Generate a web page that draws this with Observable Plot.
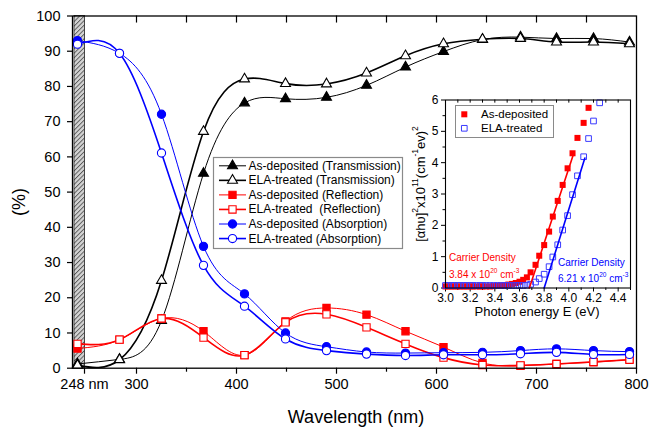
<!DOCTYPE html>
<html><head><meta charset="utf-8">
<script src="https://cdn.jsdelivr.net/npm/d3@7"></script>
<script src="https://cdn.jsdelivr.net/npm/@observablehq/plot@0.6"></script>
<style>
body{margin:0;background:#fff;}
#wrap{position:relative;width:649px;height:429px;overflow:hidden;background:#fff;}
#wrap svg{position:absolute;overflow:visible;}
</style></head><body><div id="wrap"></div>
<script>
// ---------- main chart data ----------
const wavelength = [241, 283, 325, 367, 408, 449, 490, 530, 569, 607, 646, 684, 720, 757, 793];
const transAsDep = [1.2, 2.5, 13.5, 55.3, 75.3, 76.5, 76.9, 80.3, 85.5, 89.9, 93.3, 94.0, 93.6, 93.6, 92.6];
const transELA   = [0.8, 2.4, 24.9, 67.2, 82.1, 80.8, 80.7, 83.8, 88.7, 92.1, 93.4, 93.6, 92.6, 92.6, 92.1];
const reflAsDep  = [5.6, 8.1, 14.1, 10.5, 3.7, 13.3, 17.1, 15.2, 10.5, 6.0, 1.5, 0.7, 1.2, 1.7, 2.5];
const reflELA    = [6.9, 8.1, 14.1, 8.7, 3.7, 13.0, 15.3, 11.6, 6.9, 3.0, 0.9, 0.8, 1.2, 1.8, 2.4];
const absAsDep   = [93.0, 89.4, 72.1, 34.6, 21.1, 10.0, 6.1, 4.6, 4.3, 4.4, 4.5, 5.0, 5.5, 5.0, 4.7];
const absELA     = [92.0, 89.4, 61.1, 29.2, 17.6, 8.3, 5.0, 4.0, 3.6, 3.8, 3.8, 4.1, 4.5, 3.9, 3.9];
const seriesLabels = [
  "As-deposited (Transmission)", "ELA-treated (Transmission)",
  "As-deposited (Reflection)", "ELA-treated  (Reflection)",
  "As-deposited (Absorption)", "ELA-treated (Absorption)"
];
const laserBand = [238, 248.5];
const xMajorTicks = [248, 300, 400, 500, 600, 700, 800];
const xMinorTicks = [350, 450, 550, 650, 750];
const yTicks = [0, 10, 20, 30, 40, 50, 60, 70, 80, 90, 100];

// ---------- inset data ----------
const photonE = [3.00,3.02,3.05,3.07,3.10,3.12,3.15,3.17,3.20,3.22,3.25,3.28,3.30,3.33,3.36,3.39,3.42,3.45,3.48,3.51,3.54,3.57,3.60,3.63,3.66,3.69,3.73,3.76,3.80,3.84,3.87,3.91,3.95,3.99,4.03,4.07,4.12,4.16,4.20,4.25];
const insetAsDep = [0.05,0.05,0.05,0.05,0.05,0.05,0.05,0.05,0.05,0.05,0.05,0.05,0.05,0.05,0.05,0.06,0.07,0.08,0.09,0.11,0.13,0.16,0.20,0.26,0.34,0.50,0.74,1.03,1.37,1.80,2.28,2.78,3.29,3.82,4.30,4.79,5.27,5.75,null,null];
const insetELA = [0.08,0.08,0.08,0.08,0.08,0.08,0.08,0.08,0.08,0.08,0.08,0.08,0.08,0.08,0.08,0.08,0.08,0.08,0.08,0.08,0.08,0.08,0.08,0.08,0.09,0.12,0.19,0.30,0.44,0.68,0.99,1.38,1.85,2.31,2.98,3.58,4.19,4.77,5.33,5.91];
const fitAsDepE = [3.68, 4.04], fitAsDepY = [0, 4.3];
const fitELAE = [3.80, 4.13], fitELAY = [0, 4.15];
const insetLabels = ["As-deposited", "ELA-treated"];
const insetXTicks = [3.0,3.2,3.4,3.6,3.8,4.0,4.2,4.4];
const insetXMinor = [3.1,3.3,3.5,3.7,3.9,4.1,4.3,4.5];
const insetYTicks = [0,1,2,3,4,5,6];
const insetYMinor = [0.5,1.5,2.5,3.5,4.5,5.5];
const carrierAsDep = "3.84", carrierELA = "6.21";

const FONT = '"Liberation Sans", Arial, Helvetica, sans-serif';
const rows = ys => wavelength.map((w, i) => ({w, v: ys[i]}));

const series = [
  {label: seriesLabels[0], data: rows(transAsDep), color: "#000", symbol: "triangle", filled: true,  sw: 1.0, r: 3.7},
  {label: seriesLabels[1], data: rows(transELA),   color: "#000", symbol: "triangle", filled: false, sw: 1.6, r: 3.7},
  {label: seriesLabels[2], data: rows(reflAsDep),  color: "#ff0000", symbol: "square", filled: true,  sw: 1.0, r: 4.1},
  {label: seriesLabels[3], data: rows(reflELA),    color: "#ff0000", symbol: "square", filled: false, sw: 1.6, r: 4.1},
  {label: seriesLabels[4], data: rows(absAsDep),   color: "#0000ff", symbol: "circle", filled: true,  sw: 1.0, r: 4.1},
  {label: seriesLabels[5], data: rows(absELA),     color: "#0000ff", symbol: "circle", filled: false, sw: 1.6, r: 4.1}
];

const marks = [
  Plot.rect([laserBand], {x1: d => d[0], x2: d => d[1], y1: () => 0, y2: () => 100, fill: "url(#hatch)", stroke: "#222", strokeWidth: 0.8})
];
for (const s of series) {
  marks.push(Plot.line(s.data, {x: "w", y: "v", curve: "natural", stroke: s.color, strokeWidth: s.sw}));
  marks.push(Plot.dot(s.data, {x: "w", y: "v", symbol: s.symbol, r: s.r,
    fill: s.filled ? s.color : "white", stroke: s.color, strokeWidth: 1.1}));
}
marks.push(
  Plot.axisY({ticks: yTicks, tickSize: 5, tickPadding: 7, fontSize: 14.5, label: null, strokeWidth: 1.2, tickFormat: d => String(d)}),
  Plot.axisX({ticks: xMajorTicks, tickSize: 6, tickPadding: 5, fontSize: 14.5, label: null, strokeWidth: 1.2,
    tickFormat: d => d === 248 ? "248 nm" : String(d)}),
  Plot.axisX({ticks: xMinorTicks, tickSize: 4, tickFormat: () => "", label: null, strokeWidth: 1.2}),
  Plot.ruleX(xMajorTicks.concat(xMinorTicks).filter(d => d !== 248 && d !== 800), {y1: () => 100, y2: () => 98, stroke: "#000", strokeWidth: 1.2}),
  Plot.frame({stroke: "#000", strokeWidth: 1.3})
);

const main = Plot.plot({
  width: 649, height: 429,
  marginLeft: 72, marginRight: 13, marginTop: 15.5, marginBottom: 61.3,
  x: {domain: [236, 800]},
  y: {domain: [0, 100]},
  style: {fontFamily: FONT, background: "transparent", color: "#000"},
  marks
});
main.style.left = "0px"; main.style.top = "0px";
document.getElementById("wrap").appendChild(main);

const ms = d3.select(main);
const defs = ms.insert("defs", ":first-child");
const pat = defs.append("pattern").attr("id", "hatch").attr("patternUnits", "userSpaceOnUse")
  .attr("width", 3.2).attr("height", 3.2).attr("patternTransform", "rotate(45)");
pat.append("rect").attr("width", 3.2).attr("height", 3.2).attr("fill", "#d4d4d4");
pat.append("line").attr("x1", 0.5).attr("y1", 0).attr("x2", 0.5).attr("y2", 3.2).attr("stroke", "#444").attr("stroke-width", 0.8);

// axis titles
ms.append("text").attr("x", 356).attr("y", 423).attr("text-anchor", "middle")
  .attr("font-family", FONT).attr("font-size", 18).text("Wavelength (nm)");
ms.append("text").attr("transform", "translate(19,202) rotate(-90)").attr("text-anchor", "middle")
  .attr("dominant-baseline", "central").attr("font-family", FONT).attr("font-size", 18).text("(%)");

// legend
const symType = {triangle: d3.symbolTriangle, square: d3.symbolSquare, circle: d3.symbolCircle};
const lg = ms.append("g").attr("text-anchor", "start");
lg.append("rect").attr("x", 213.5).attr("y", 157.5).attr("width", 189).attr("height", 91)
  .attr("fill", "#fff").attr("stroke", "#8a8a8a").attr("stroke-width", 1.2);
series.forEach((s, i) => {
  const y = 165.8 + i * 14.55;
  lg.append("line").attr("x1", 219).attr("x2", 246).attr("y1", y).attr("y2", y)
    .attr("stroke", s.color).attr("stroke-width", s.sw);
  lg.append("path").attr("d", d3.symbol(symType[s.symbol], s.r * s.r * Math.PI)())
    .attr("transform", `translate(232.5,${y})`)
    .attr("fill", s.filled ? s.color : "#fff").attr("stroke", s.color).attr("stroke-width", 1.1);
  lg.append("text").attr("x", 248.5).attr("y", y).attr("dominant-baseline", "central").attr("text-anchor", "start")
    .attr("font-family", FONT).attr("font-size", 12).attr("fill", "#000").text(s.label);
});

// ---------- inset ----------
const asDepPts = photonE.map((e, i) => ({e, v: insetAsDep[i]})).filter(d => d.v != null);
const elaPts = photonE.map((e, i) => ({e, v: insetELA[i]})).filter(d => d.v != null);
const fitA = fitAsDepE.map((e, i) => ({e, v: fitAsDepY[i]}));
const fitB = fitELAE.map((e, i) => ({e, v: fitELAY[i]}));

const inset = Plot.plot({
  width: 227, height: 232,
  marginLeft: 40, marginRight: 2, marginTop: 9.5, marginBottom: 34.5,
  x: {domain: [3.0, 4.5]},
  y: {domain: [0, 6]},
  style: {fontFamily: FONT, background: "transparent", color: "#000"},
  marks: [
    Plot.axisY({ticks: insetYTicks, tickSize: 4, tickPadding: 3, fontSize: 12, label: null, tickFormat: d => String(d)}),
    Plot.axisY({ticks: insetYMinor, tickSize: 2.5, tickFormat: () => "", label: null}),
    Plot.axisX({ticks: insetXTicks, tickSize: 4, tickPadding: 1, fontSize: 12, label: null, tickFormat: d => d.toFixed(1)}),
    Plot.axisX({ticks: insetXMinor, tickSize: 2.5, tickFormat: () => "", label: null}),
    Plot.ruleX(insetXTicks.concat(insetXMinor).filter(d => d < 4.5 && d > 3.0), {y1: () => 6, y2: () => 5.9, stroke: "#000"}),
    Plot.dot(asDepPts, {x: "e", y: "v", symbol: "square", r: 3.4, fill: "#ff0000", stroke: "none"}),
    Plot.dot(elaPts, {x: "e", y: "v", symbol: "square", r: 3.2, fill: "none", stroke: "#3a3aff", strokeWidth: 1}),
    Plot.line(fitA, {x: "e", y: "v", stroke: "#ff0000", strokeWidth: 1.6}),
    Plot.line(fitB, {x: "e", y: "v", stroke: "#0000ff", strokeWidth: 1.6}),
    Plot.frame({stroke: "#000", strokeWidth: 1.1})
  ]
});
inset.style.left = "405px"; inset.style.top = "90px";
document.getElementById("wrap").appendChild(inset);
const is = d3.select(inset);

function rich(sel, parts, supSize, shift) {
  for (const [t, sup] of parts) {
    const ts = sel.append("tspan").text(t);
    if (sup) ts.attr("font-size", supSize).attr("baseline-shift", shift);
  }
  return sel;
}
// inset axis titles
is.append("text").attr("x", 132).attr("y", 221.7).attr("text-anchor", "middle").attr("dominant-baseline", "central")
  .attr("font-family", FONT).attr("font-size", 13).text("Photon energy E (eV)");
rich(is.append("text").attr("transform", "translate(15,94) rotate(-90)").attr("text-anchor", "middle")
  .attr("dominant-baseline", "central").attr("font-family", FONT).attr("font-size", 13),
  [["[\u03b1h\u03c5]", false], ["2", true], ["x10", false], ["11", true], ["(cm", false], ["-1", true], ["ev)", false], ["2", true]],
  8.5, 5);

// inset legend
const il = is.append("g").attr("text-anchor", "start");
il.append("rect").attr("x", 50.5).attr("y", 15.5).attr("width", 98).attr("height", 32)
  .attr("fill", "#fff").attr("stroke", "#8a8a8a").attr("stroke-width", 1);
[[insetLabels[0], "#ff0000", true], [insetLabels[1], "#3a3aff", false]].forEach(([lab, col, filled], i) => {
  const y = 24.3 + i * 14;
  il.append("path").attr("d", d3.symbol(d3.symbolSquare, (filled ? 3.4 : 3.2) ** 2 * Math.PI)())
    .attr("transform", `translate(59.3,${y})`).attr("fill", filled ? col : "none")
    .attr("stroke", filled ? "none" : col).attr("stroke-width", 1);
  il.append("text").attr("x", 76).attr("y", y).attr("dominant-baseline", "central").attr("text-anchor", "start")
    .attr("font-family", FONT).attr("font-size", 11.5).attr("fill", "#000").text(lab);
});

// carrier density annotations
function carrier(x, y1, y2, color, val) {
  is.append("text").attr("x", x).attr("y", y1).attr("dominant-baseline", "central").attr("text-anchor", "start")
    .attr("fill", color).attr("font-family", FONT).attr("font-size", 10).text("Carrier Density");
  rich(is.append("text").attr("x", x).attr("y", y2).attr("dominant-baseline", "central").attr("text-anchor", "start")
    .attr("fill", color).attr("font-family", FONT).attr("font-size", 10),
    [[val + " x 10", false], ["20", true], [" cm", false], ["-3", true]], 6.5, 4);
}
carrier(44, 167.3, 184.3, "#ff0000", carrierAsDep);
carrier(153, 172.3, 188.3, "#0000ff", carrierELA);
</script></body></html>
